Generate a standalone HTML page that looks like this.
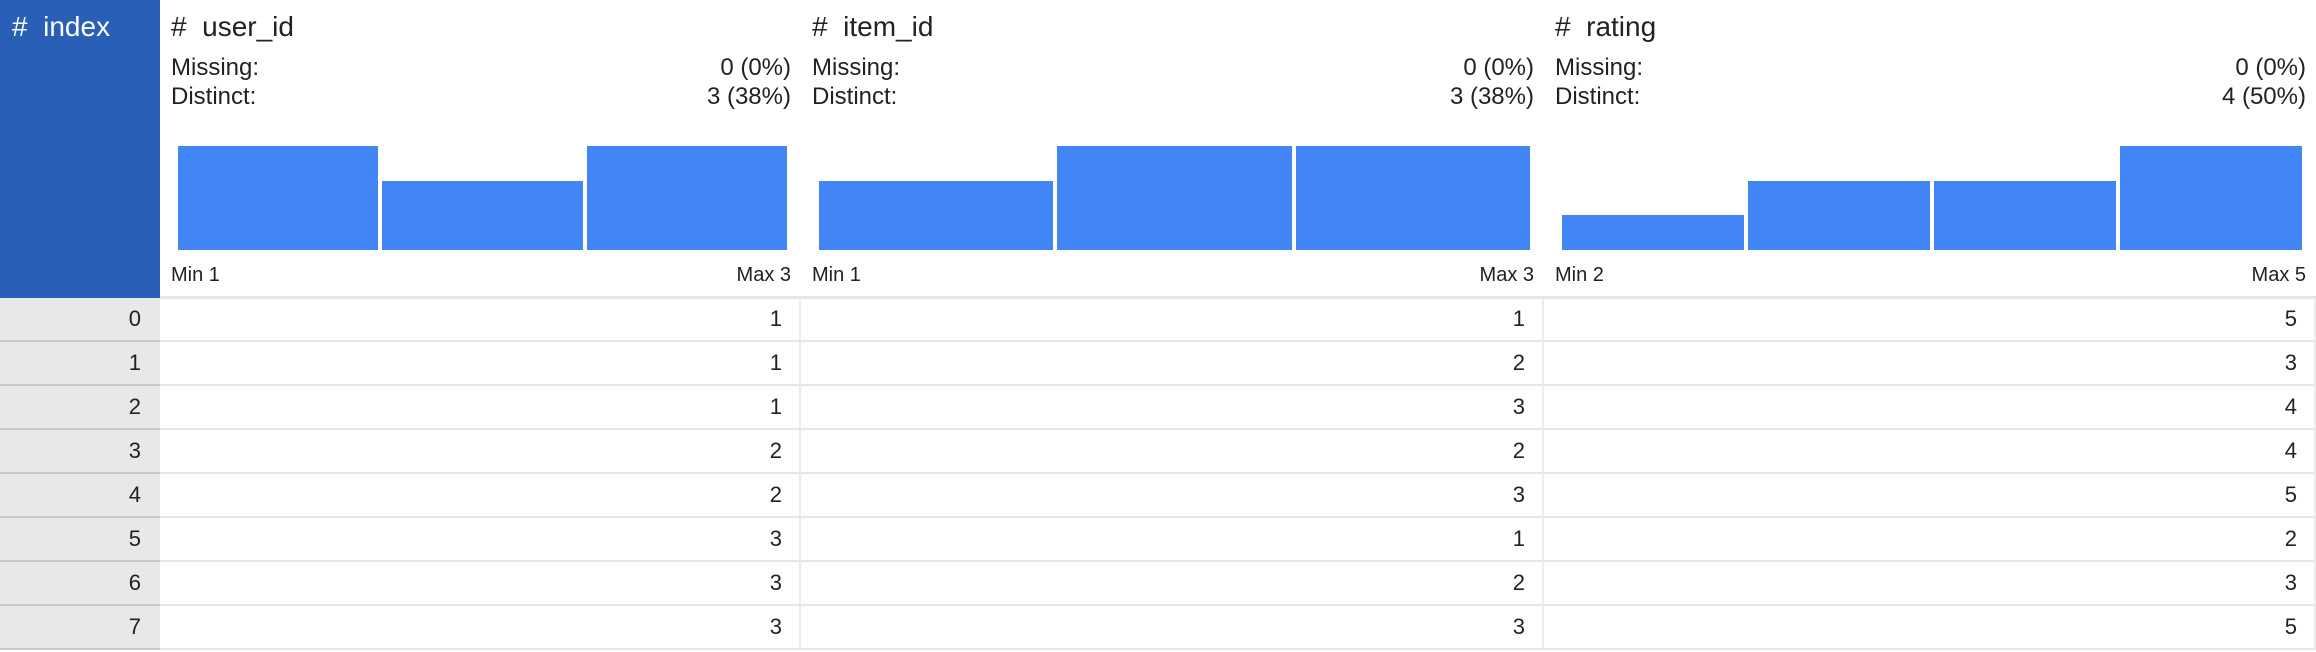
<!DOCTYPE html>
<html><head><meta charset="utf-8">
<style>
html,body{margin:0;padding:0;background:#fff;}
body{width:2316px;height:652px;overflow:hidden;position:relative;font-family:"Liberation Sans",sans-serif;color:#222;}
.abs{position:absolute;}
.idxhead{left:0;top:0;width:160px;height:298px;background:#2a5fb8;color:#fff;}
.title{font-size:28px;top:11px;white-space:pre;}
.stat{font-size:24px;white-space:nowrap;}
.mm{font-size:20px;white-space:nowrap;}
.bar{background:#4285f4;}
.cell{font-size:22px;text-align:right;box-sizing:border-box;border-bottom:2px solid #e6e6e6;border-right:2px solid #ececec;line-height:42px;}
.icell{background:#e8e8e8;border-bottom:2px solid #c8c8c8;border-right:none;}
</style></head><body>
<div class="abs idxhead">
  <div class="abs title" style="left:12px;">#  index</div>
</div>
<div class="abs" style="left:160px;top:296px;width:2156px;height:3px;background:#e6e6e6"></div>
<div id="root"></div>
<script>
const columns = ["user_id","item_id","rating"];
const colLeft = [160, 801, 1544];
const colRight = [801, 1544, 2316];
const missing = ["0 (0%)","0 (0%)","0 (0%)"];
const distinct = ["3 (38%)","3 (38%)","4 (50%)"];
const minLabels = ["Min 1","Min 1","Min 2"];
const maxLabels = ["Max 3","Max 3","Max 5"];
const histUser = [3,2,3];
const histItem = [2,3,3];
const histRating = [1,2,2,3];
const indexVals = [0,1,2,3,4,5,6,7];
const userVals = [1,1,1,2,2,3,3,3];
const itemVals = [1,2,3,2,3,1,2,3];
const ratingVals = [5,3,4,4,5,2,3,5];

const hists = [histUser, histItem, histRating];
const vals = [userVals, itemVals, ratingVals];
const root = document.getElementById('root');
function div(cls, style, text){const d=document.createElement('div');d.className='abs '+cls;d.setAttribute('style',style);if(text!==undefined)d.textContent=text;root.appendChild(d);return d;}
const barBottom=250, barMaxH=104, rowTop=298, rowH=44;
columns.forEach((c,i)=>{
  const L=colLeft[i], R=colRight[i], W=R-L;
  let t=div('title',`left:${L+11}px;`,'#  '+c);
  
  
  let s=div('stat',`left:${L+11}px;top:54px;`,'Missing:');
  
  
  s=div('stat',`left:${L}px;width:${W-10}px;text-align:right;top:54px;`,missing[i]);
  
  
  s=div('stat',`left:${L+11}px;top:83px;`,'Distinct:');
  
  
  s=div('stat',`left:${L}px;width:${W-10}px;text-align:right;top:83px;`,distinct[i]);
  
  
  const h=hists[i], maxC=Math.max(...h);
  const x0=L+18, x1=R-14, gap=4, n=h.length, bw=(x1-x0-gap*(n-1))/n;
  h.forEach((v,j)=>{
    const bh=v/maxC*barMaxH;
    const b=div('bar',`left:${x0+j*(bw+gap)}px;top:${barBottom-bh}px;width:${bw}px;height:${bh}px;`);
    
    
  });
  let m=div('mm',`left:${L+11}px;top:264px;`,minLabels[i]);
  
  
  m=div('mm',`left:${L}px;width:${W-10}px;text-align:right;top:264px;`,maxLabels[i]);
  
  
  vals[i].forEach((v,r)=>{
    const cl=div('cell',`left:${L}px;top:${rowTop+r*rowH}px;width:${W}px;height:${rowH}px;padding-right:17px;`,String(v));
    
    
  });
});
indexVals.forEach((v,r)=>{
  const cl=div('cell icell',`left:0px;top:${rowTop+r*rowH}px;width:160px;height:${rowH}px;padding-right:19px;`,String(v));
  
  
});
</script>
</body></html>
